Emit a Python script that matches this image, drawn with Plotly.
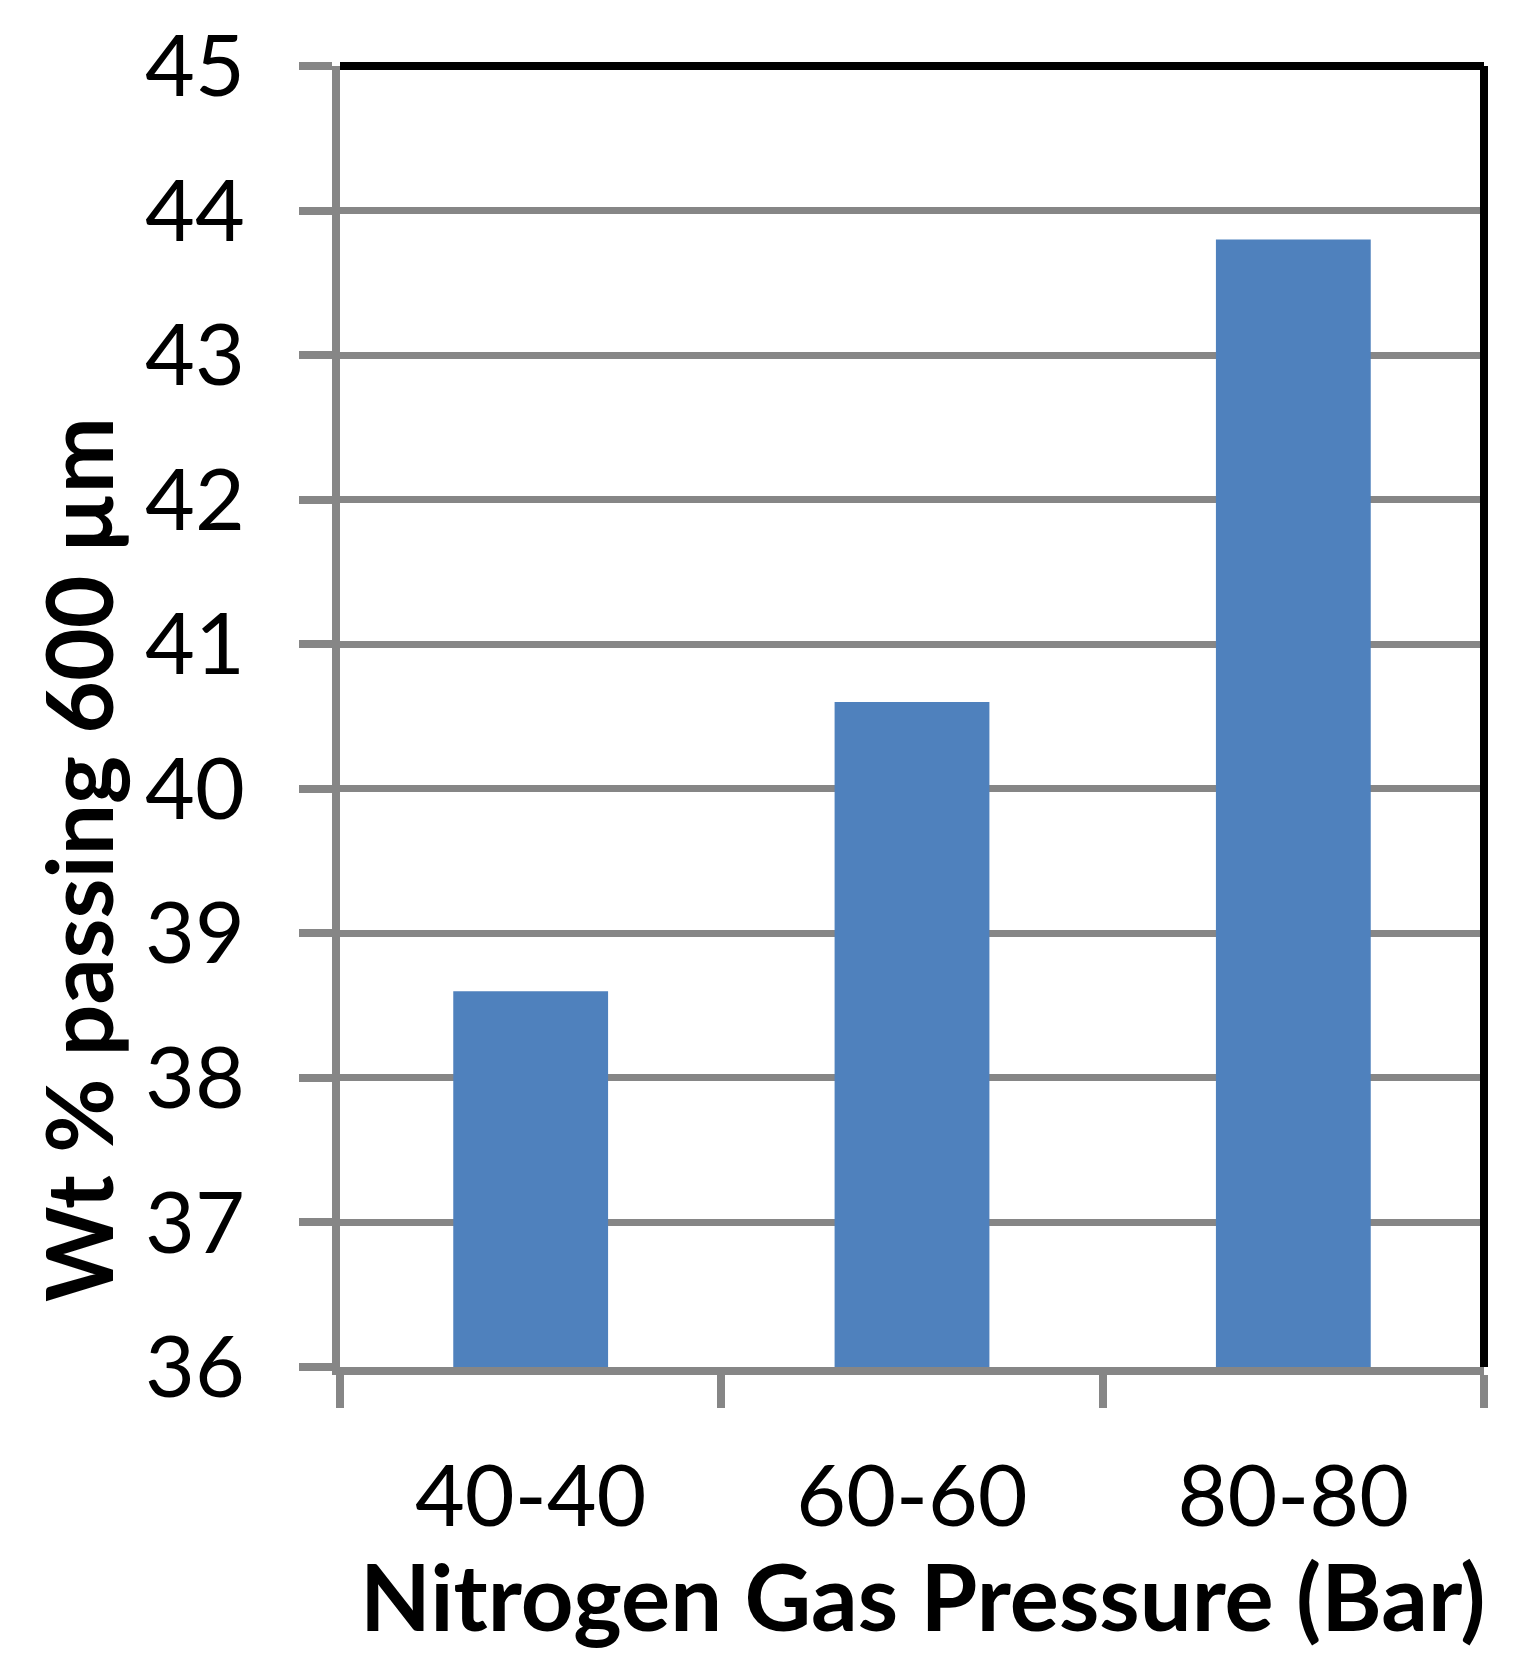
import plotly.graph_objects as go

categories = ["40-40", "60-60", "80-80"]
values = [38.6, 40.6, 43.8]
y_ticks = [36, 37, 38, 39, 40, 41, 42, 43, 44, 45]

GRAY = "#868686"
BAR = "#4F81BD"
FONT = "Lato"

W, H = 1522, 1680
L, R, T, B = 332, 46, 58, 321
PW, PH = W - L - R, H - T - B


def px_x(px):
    return (px - L) / PW


def px_y(py):
    return 1 - (py - T) / PH


fig = go.Figure()
fig.add_trace(go.Bar(x=categories, y=values, marker=dict(color=BAR, line=dict(width=0)),
                     showlegend=False))

fig.update_layout(
    width=W, height=H,
    margin=dict(l=L, r=R, t=T, b=B, pad=0, autoexpand=False),
    paper_bgcolor="white", plot_bgcolor="white",
    bargap=0.594,
    font=dict(family=FONT, color="black"),
    xaxis=dict(
        type="category", automargin=False,
        showline=True, linecolor=GRAY, linewidth=8,
        ticks="outside", tickson="boundaries", ticklen=33, tickwidth=8, tickcolor=GRAY,
        showgrid=False,
        tickfont=dict(family=FONT, size=86, color="black"),
        ticklabelstandoff=48,
    ),
    yaxis=dict(
        range=[36, 45], tickvals=y_ticks, ticktext=[str(v) for v in y_ticks],
        automargin=False,
        showline=True, linecolor=GRAY, linewidth=8,
        ticks="outside", ticklen=33, tickwidth=8, tickcolor=GRAY,
        showgrid=True, gridcolor=GRAY, gridwidth=7,
        zeroline=False,
        tickfont=dict(family=FONT, size=86, color="black"),
        ticklabelstandoff=37,
    ),
    annotations=[
        dict(text="<b>Nitrogen Gas Pressure (Bar)</b>", xref="paper", yref="paper",
             x=px_x(915), y=px_y(1588), xanchor="center", yanchor="middle",
             showarrow=False, font=dict(family=FONT, size=92, color="black")),
        dict(text="<b>Wt % passing 600 µm</b>", xref="paper", yref="paper",
             x=px_x(69), y=px_y(852), xanchor="center", yanchor="middle", textangle=-90,
             showarrow=False, font=dict(family=FONT, size=91, color="black")),
    ],
    shapes=[
        dict(type="line", xref="paper", yref="paper", x0=0, x1=1, y0=1, y1=1,
             line=dict(color="black", width=8), layer="above"),
        dict(type="line", xref="paper", yref="paper", x0=1, x1=1, y0=0, y1=1,
             line=dict(color="black", width=8), layer="above"),
    ],
)

fig.write_html("out.html")
